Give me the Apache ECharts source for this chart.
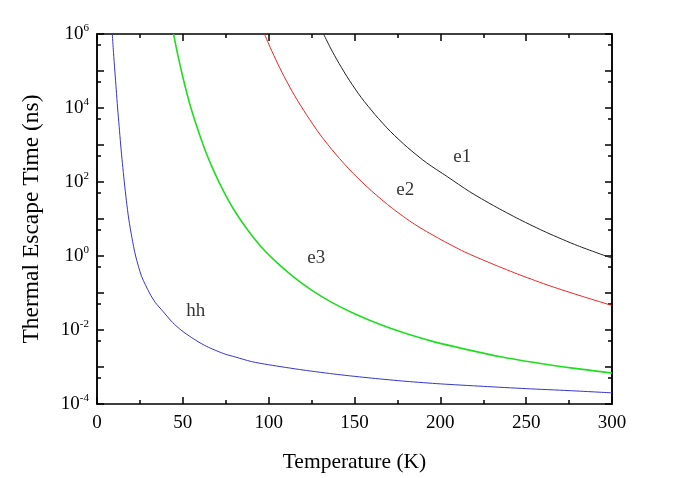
<!DOCTYPE html>
<html>
<head>
<meta charset="utf-8">
<script src="https://cdn.jsdelivr.net/npm/echarts@6/dist/echarts.min.js"></script>
<style>
  html, body { margin: 0; padding: 0; background: #fff; }
  #chart { width: 685px; height: 478px; }
</style>
</head>
<body>
<div id="chart"></div>
<script>
// curves: temperature (K) and escape time (ns)
var e1T   = [132, 136, 141, 147, 154, 162, 171, 181, 192, 204, 217, 231, 246, 262, 280, 300];
var e1Tau = [1e6, 4.2e5, 1.6e5, 5.6e4, 1.9e4, 6.6e3, 2.3e3, 850, 330, 140, 55, 23, 9.8, 4.3, 1.9, 0.87];

var e2T   = [97.5, 100, 104, 109, 115, 122, 130, 139, 149, 160, 172, 185, 199, 214, 230, 247, 264, 282, 300];
var e2Tau = [1e6, 5.4e5, 2.1e5, 7.1e4, 2.2e4, 6.6e3, 1.9e3, 570, 175, 57, 19.5, 7.2, 3.0, 1.3, 0.62, 0.30, 0.155, 0.083, 0.046];

var e3T   = [44.6, 47, 50, 54, 58, 63, 68, 74, 80, 88, 96, 105, 115, 125, 137, 150, 165, 180, 197, 215, 235, 255, 277, 300];
var e3Tau = [1e6, 2.8e5, 6.9e4, 1.3e4, 3.3e3, 720, 200, 53, 17, 4.9, 1.7, 0.65, 0.26, 0.12, 0.055, 0.0275, 0.014, 0.008, 0.0047, 0.003, 0.0019, 0.00132, 0.00093, 0.00069];

var hhT   = [8.9, 9.6, 10.4, 11.2, 12, 12.9, 13.8, 14.8, 15.9, 17.1, 18.5, 20.3, 22.5, 26, 30.6, 34, 38.4, 44,
             49.5, 55, 60, 65, 70, 75, 80, 90, 100, 120, 140, 160, 180, 200, 225, 250, 275, 300];
var hhTau = [1e6, 3.2e5, 1e5, 3.2e4, 1e4, 3.2e3, 1e3, 320, 100, 32, 10, 3.2, 1, 0.28, 0.1, 0.055, 0.032, 0.016,
             0.0095, 0.0063, 0.0045, 0.0034, 0.0027, 0.0022, 0.0019, 0.0014, 0.00115, 0.00083, 0.00063, 0.0005, 0.00041, 0.00035, 0.0003, 0.00026, 0.00023, 0.0002];

var xTicks     = [0, 50, 100, 150, 200, 250, 300];
var yMajor     = [1e-4, 1e-3, 1e-2, 1e-1, 1, 10, 100, 1e3, 1e4, 1e5, 1e6];
var yMinor     = [5e-4, 5e-3, 5e-2, 0.5, 5, 50, 500, 5e3, 5e4, 5e5];
var yLabelVals = [1e-4, 1e-2, 1, 100, 1e4, 1e6];

// curve labels placed in data space
var curveNames = ['e1', 'e2', 'e3', 'hh'];
var labelT     = [212.8, 179.6, 127.7, 57.5];
var labelTau   = [480, 60, 0.9, 0.033];

var FONT = 'Liberation Serif';

function pairs(xs, ys) {
    return xs.map(function (x, i) { return [x, ys[i]]; });
}

function curve(name, xs, ys, color, width) {
    return {
        name: name,
        type: 'line',
        xAxisIndex: 0,
        yAxisIndex: 0,
        data: pairs(xs, ys),
        smooth: 0.25,
        showSymbol: false,
        silent: true,
        lineStyle: { color: color, width: width },
        z: 3
    };
}

function yAxisDef(position, values, length, withLabels) {
    return {
        type: 'log',
        logBase: 10,
        min: 1e-4,
        max: 1e6,
        position: position,
        axisLine: { show: true, onZero: false, lineStyle: { color: '#000', width: 1.5 } },
        axisTick: { show: true, inside: true, length: length, customValues: values,
                    lineStyle: { color: '#000', width: 1.5 } },
        minorTick: { show: false },
        splitLine: { show: false },
        axisLabel: withLabels ? {
            show: true,
            customValues: yLabelVals,
            margin: 8,
            formatter: function (v) {
                var e = Math.round(Math.log10(v));
                return '{b|10}{s|' + e + '}';
            },
            rich: {
                b: { fontFamily: FONT, fontSize: 19, color: '#000' },
                s: { fontFamily: FONT, fontSize: 11, color: '#000', padding: [0, 0, 12, 0] }
            }
        } : { show: false }
    };
}

var chart = echarts.init(document.getElementById('chart'), null, { renderer: 'canvas' });

var option = {
    backgroundColor: '#fff',
    animation: false,
    grid: { left: 97, right: 73, top: 34, bottom: 74, containLabel: false },
    xAxis: [{
        type: 'value',
        min: 0,
        max: 300,
        interval: 50,
        position: 'bottom',
        name: 'Temperature (K)',
        nameLocation: 'middle',
        nameGap: 47,
        nameTextStyle: { fontFamily: FONT, fontSize: 21.5, color: '#000' },
        axisLine: { onZero: false, lineStyle: { color: '#000', width: 1.5 } },
        axisTick: { inside: true, length: 7, lineStyle: { color: '#000', width: 1.5 } },
        minorTick: { show: true, splitNumber: 2, length: 4, lineStyle: { color: '#000', width: 1.5 } },
        splitLine: { show: false },
        axisLabel: { margin: 10, fontFamily: FONT, fontSize: 19, color: '#000',
                     customValues: xTicks }
    }, {
        type: 'value',
        min: 0,
        max: 300,
        interval: 50,
        position: 'top',
        axisLine: { onZero: false, lineStyle: { color: '#000', width: 1.5 } },
        axisTick: { inside: true, length: 7, lineStyle: { color: '#000', width: 1.5 } },
        minorTick: { show: true, splitNumber: 2, length: 4, lineStyle: { color: '#000', width: 1.5 } },
        splitLine: { show: false },
        axisLabel: { show: false }
    }],
    yAxis: [
        Object.assign(yAxisDef('left', yMajor, 7, true), {
            name: 'Thermal Escape Time (ns)',
            nameLocation: 'middle',
            nameGap: 53,
            nameRotate: 90,
            nameTextStyle: { fontFamily: FONT, fontSize: 23.5, color: '#000' }
        }),
        yAxisDef('left', yMinor, 4, false),
        yAxisDef('right', yMajor, 7, false),
        yAxisDef('right', yMinor, 4, false)
    ],
    series: [
        curve('e1', e1T, e1Tau, '#222222', 1),
        curve('e2', e2T, e2Tau, '#ee2222', 1),
        curve('e3', e3T, e3Tau, '#1fdd1f', 1.6),
        curve('hh', hhT, hhTau, '#3535cc', 1),
        {
            name: 'labels',
            type: 'scatter',
            xAxisIndex: 0,
            yAxisIndex: 0,
            symbolSize: 0,
            silent: true,
            data: curveNames.map(function (n, i) {
                return { name: n, value: [labelT[i], labelTau[i]] };
            }),
            label: {
                show: true,
                position: 'inside',
                formatter: function (p) { return p.name; },
                fontFamily: FONT,
                fontSize: 19,
                color: '#000'
            },
            z: 5
        }
    ]
};

chart.setOption(option);
</script>
</body>
</html>
